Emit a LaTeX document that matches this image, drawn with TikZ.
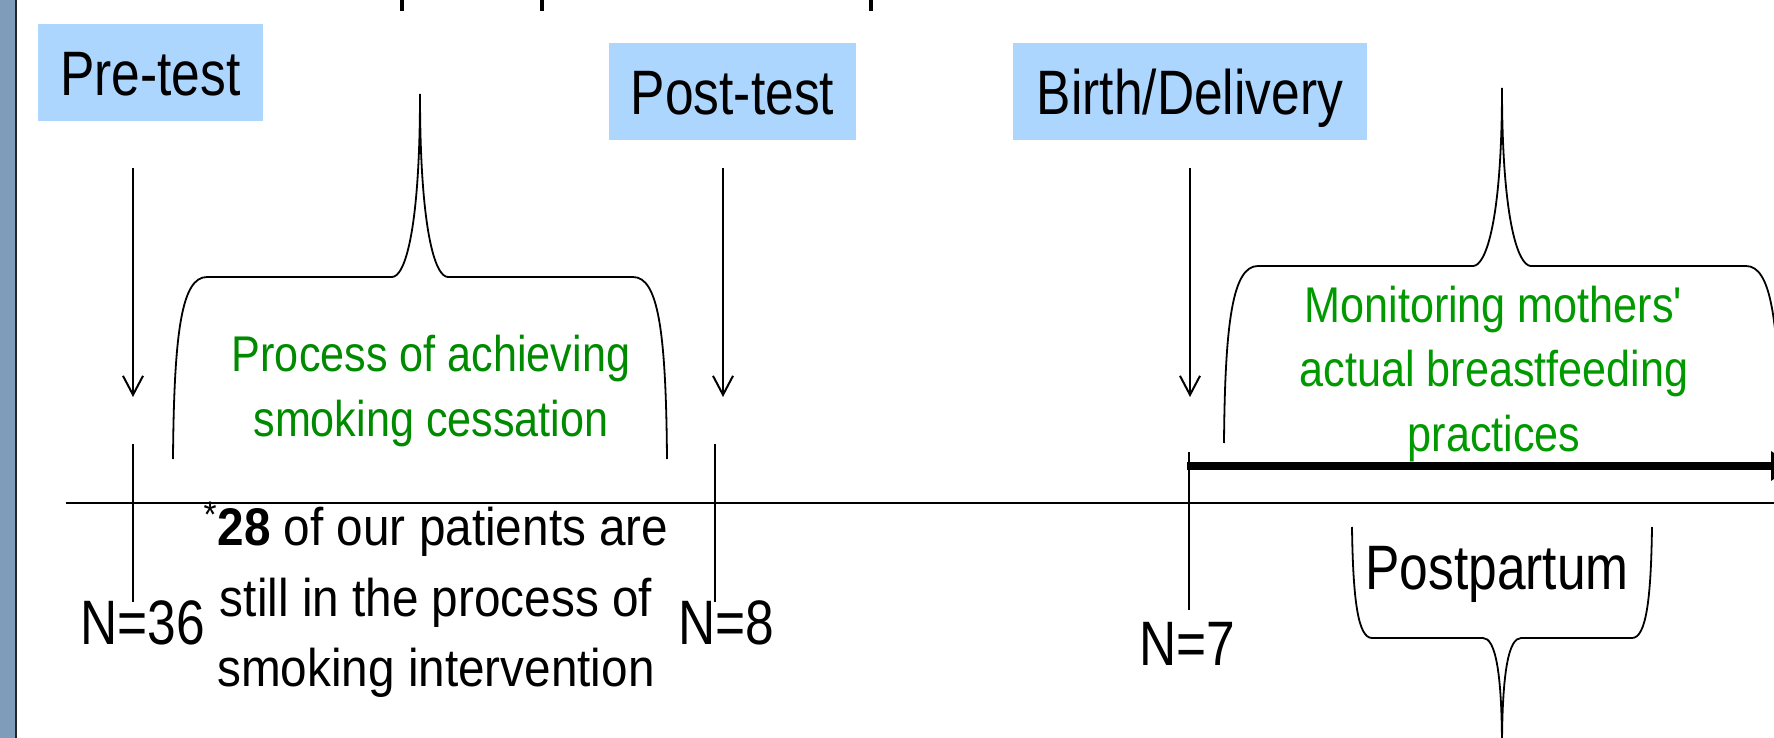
\documentclass[tikz,border=0pt]{standalone}
\usepackage{fontspec}
\setmainfont{Liberation Sans}[FakeStretch=0.82]
\newfontfamily\greenFont{Liberation Sans}[FakeStretch=0.86]
\newfontfamily\noteFont{Liberation Sans}[FakeStretch=0.9]
\usepackage{xcolor}
\definecolor{boxBlue}{HTML}{ADD6FE}
\definecolor{noteGreen}{HTML}{008A00}
\definecolor{monitorGreen}{HTML}{009A00}
\definecolor{sideBar}{HTML}{7F9DBA}
\usepackage{tikz}
\usetikzlibrary{positioning,arrows.meta}
\tikzset{%
  phaseBox/.style={%
    rectangle,
    fill=boxBlue,
    inner sep=0pt,
    minimum height=48.5pt,
    text height=22.6pt,
    text depth=0pt,
    align=center,
    font=\fontsize{31.4}{38}\selectfont
  },
  arrowLine/.style={%
    -{Straight Barb[length=9.5pt,width=10pt]},
    line width=1pt
  },
  tickLine/.style={line width=1pt},
  topMark/.style={line width=2pt},
  braceLine/.style={line width=0.9pt},
  countLabel/.style={%
    anchor=base,
    inner sep=0pt,
    font=\fontsize{31.4}{38}\selectfont
  },
  greenNote/.style={%
    align=center,
    inner sep=0pt,
    font=\greenFont\fontsize{25.1}{32.4}\selectfont
  },
  blackNote/.style={%
    align=center,
    inner sep=0pt,
    font=\noteFont\fontsize{26.5}{35.25}\selectfont
  }
}

\begin{document}
\begin{tikzpicture}[x=0.5pt,y=-0.5pt]
  \clip (0,0) rectangle (1774,738);

  % side bar and cut-off marks at the top
  \fill[sideBar] (0,0) rectangle (15,738);
  \draw[line width=1pt,black!85] (16,0) -- (16,738);
  \draw[topMark] (402,0) -- (402,11);
  \draw[topMark] (542,0) -- (542,11);
  \draw[topMark] (871,0) -- (871,11);

  % phases
  \node[phaseBox, minimum width=112.5pt] (preTest) at (150.5,72.5) {Pre-test};
  \node[phaseBox, minimum width=123.5pt] (postTest) at (732.5,91.5) {Post-test};
  \node[phaseBox, minimum width=177pt] (birth) at (1190,91.5) {Birth/Delivery};

  \coordinate (preTop) at (133,168);
  \coordinate (preEnd) at (133,397);
  \coordinate (postTop) at (723,168);
  \coordinate (postEnd) at (723,397);
  \coordinate (birthTop) at (1190,168);
  \coordinate (birthEnd) at (1190,397);
  \draw[arrowLine] (preTop) -- (preEnd);
  \draw[arrowLine] (postTop) -- (postEnd);
  \draw[arrowLine] (birthTop) -- (birthEnd);

  % time line
  \coordinate (lineStart) at (66,503);
  \coordinate (lineEnd) at (1790,503);
  \draw[tickLine] (lineStart) -- (lineEnd);
  \draw[tickLine] (133,444) -- (133,602);
  \draw[tickLine] (715,444) -- (715,602);
  \draw[tickLine] (1189,452) -- (1189,610);

  \coordinate (feedStart) at (1187,466);
  \coordinate (feedEnd) at (1795,466);
  \draw[line width=4pt,-{Triangle[length=12pt,width=14pt]}] (feedStart) -- (feedEnd);

  % braces
  \draw[braceLine] (173,459) .. controls (174,330) and (182,277) .. (207,277)
    -- (392,277) .. controls (405,277) and (420,230) .. (420,94)
    .. controls (420,230) and (435,277) .. (448,277)
    -- (633,277) .. controls (658,277) and (666,330) .. (667,459);
  \draw[braceLine] (1224,443) .. controls (1225,320) and (1233,266) .. (1258,266)
    -- (1473,266) .. controls (1486,266) and (1502,220) .. (1502,88)
    .. controls (1502,220) and (1518,266) .. (1531,266)
    -- (1746,266) .. controls (1771,266) and (1779,320) .. (1780,443);
  \draw[braceLine] (1352,527) .. controls (1353,600) and (1358,638) .. (1372,638)
    -- (1483,638) .. controls (1495,638) and (1502,670) .. (1502,749)
    .. controls (1502,670) and (1509,638) .. (1521,638)
    -- (1632,638) .. controls (1646,638) and (1651,600) .. (1652,527);

  % texts
  \node[greenNote, text=noteGreen] (cessation) at (431,391)
    {Process of achieving\\smoking cessation};
  \node[greenNote, text=monitorGreen] (monitoring) at (1494,374)
    {Monitoring mothers\textquotesingle\\actual breastfeeding\\practices};
  \node[blackNote] (stillIn) at (436,600)
    {\textsuperscript{*}\textbf{28} of our patients are\\still in the process of\\smoking intervention};
  \node[countLabel] (preN) at (142.5,644) {N=36};
  \node[countLabel] (postN) at (726,644) {N=8};
  \node[countLabel] (birthN) at (1187,665) {N=7};
  \node[countLabel] (postpartum) at (1497,589) {Postpartum};
\end{tikzpicture}
\end{document}
